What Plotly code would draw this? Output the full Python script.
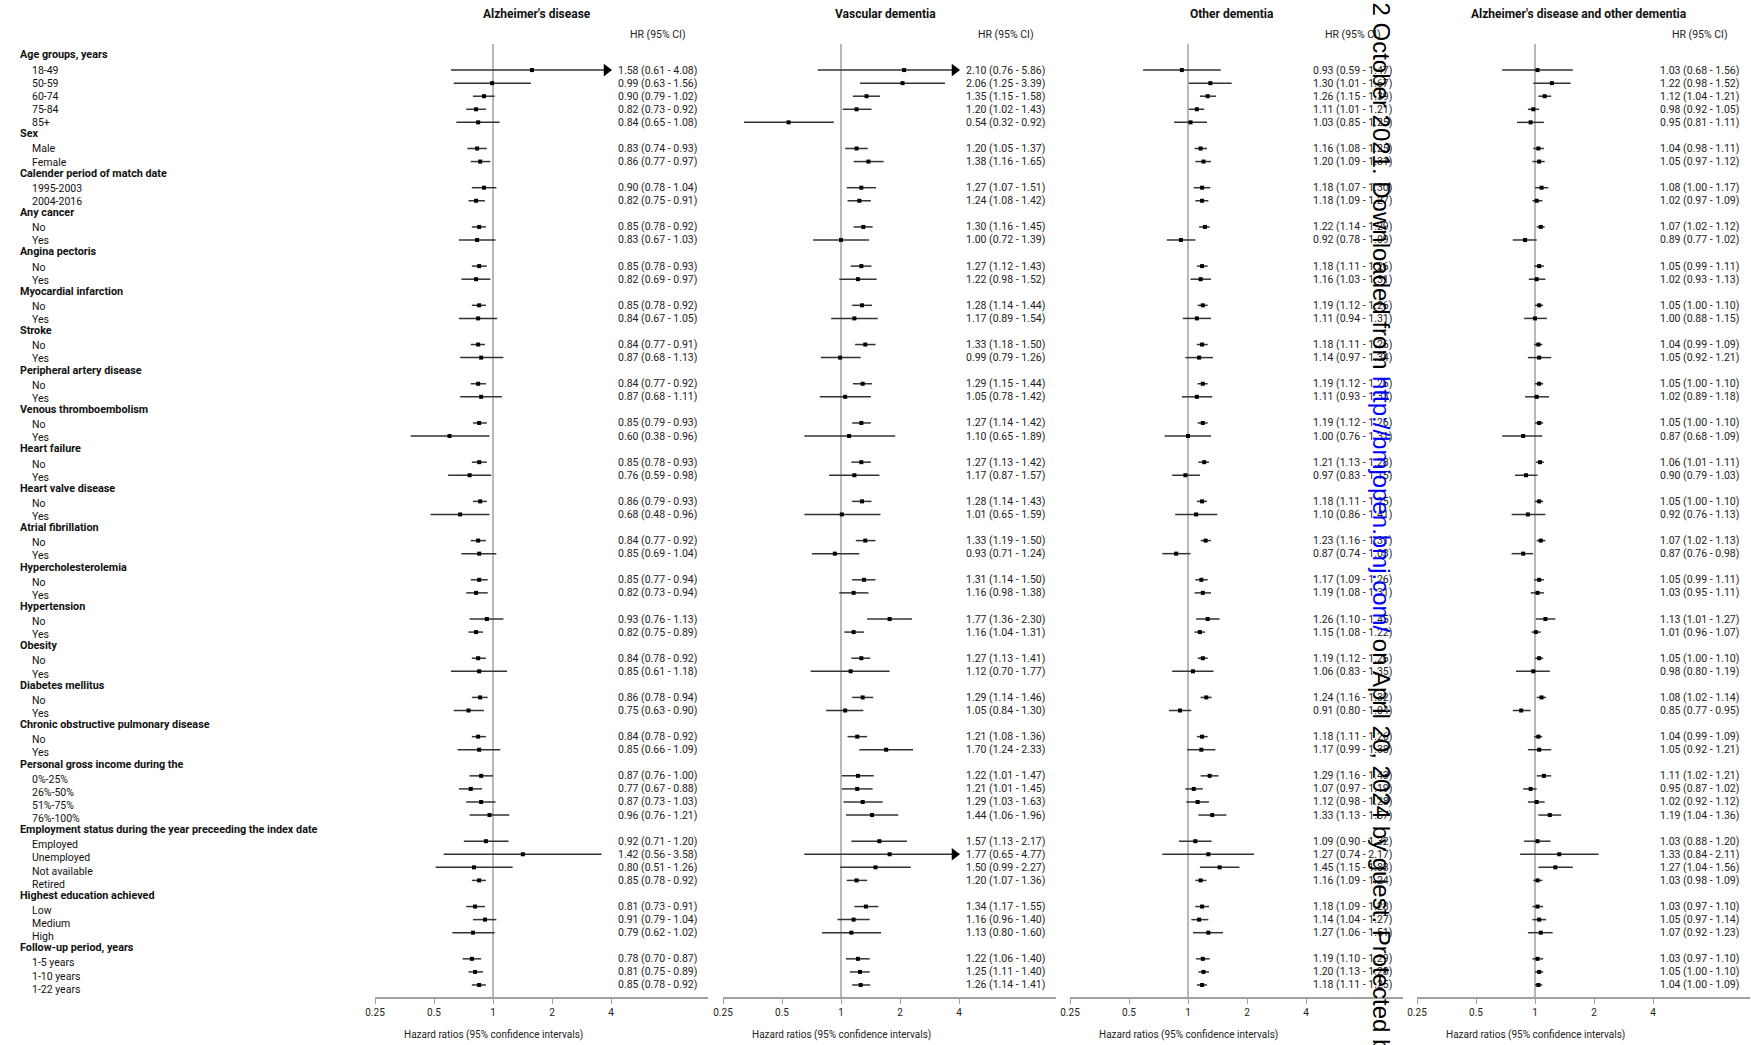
import math
import plotly.graph_objects as go

# ---------------- data ----------------
panel_titles = ["Alzheimer's disease", "Vascular dementia", "Other dementia",
                "Alzheimer's disease and other dementia"]

groups = [
    ("Age groups, years", ["18-49", "50-59", "60-74", "75-84", "85+"]),
    ("Sex", ["Male", "Female"]),
    ("Calender period of match date", ["1995-2003", "2004-2016"]),
    ("Any cancer", ["No", "Yes"]),
    ("Angina pectoris", ["No", "Yes"]),
    ("Myocardial infarction", ["No", "Yes"]),
    ("Stroke", ["No", "Yes"]),
    ("Peripheral artery disease", ["No", "Yes"]),
    ("Venous thromboembolism", ["No", "Yes"]),
    ("Heart failure", ["No", "Yes"]),
    ("Heart valve disease", ["No", "Yes"]),
    ("Atrial fibrillation", ["No", "Yes"]),
    ("Hypercholesterolemia", ["No", "Yes"]),
    ("Hypertension", ["No", "Yes"]),
    ("Obesity", ["No", "Yes"]),
    ("Diabetes mellitus", ["No", "Yes"]),
    ("Chronic obstructive pulmonary disease", ["No", "Yes"]),
    ("Personal gross income during the", ["0%-25%", "26%-50%", "51%-75%", "76%-100%"]),
    ("Employment status during the year preceeding the index date",
     ["Employed", "Unemployed", "Not available", "Retired"]),
    ("Highest education achieved", ["Low", "Medium", "High"]),
    ("Follow-up period, years", ["1-5 years", "1-10 years", "1-22 years"]),
]

ad_hr = [1.58, 0.99, 0.90, 0.82, 0.84, 0.83, 0.86, 0.90, 0.82, 0.85, 0.83, 0.85, 0.82, 0.85, 0.84,
         0.84, 0.87, 0.84, 0.87, 0.85, 0.60, 0.85, 0.76, 0.86, 0.68, 0.84, 0.85, 0.85, 0.82, 0.93, 0.82,
         0.84, 0.85, 0.86, 0.75, 0.84, 0.85, 0.87, 0.77, 0.87, 0.96, 0.92, 1.42, 0.80, 0.85, 0.81, 0.91,
         0.79, 0.78, 0.81, 0.85]
ad_lo = [0.61, 0.63, 0.79, 0.73, 0.65, 0.74, 0.77, 0.78, 0.75, 0.78, 0.67, 0.78, 0.69, 0.78, 0.67,
         0.77, 0.68, 0.77, 0.68, 0.79, 0.38, 0.78, 0.59, 0.79, 0.48, 0.77, 0.69, 0.77, 0.73, 0.76, 0.75,
         0.78, 0.61, 0.78, 0.63, 0.78, 0.66, 0.76, 0.67, 0.73, 0.76, 0.71, 0.56, 0.51, 0.78, 0.73, 0.79,
         0.62, 0.70, 0.75, 0.78]
ad_hi = [4.08, 1.56, 1.02, 0.92, 1.08, 0.93, 0.97, 1.04, 0.91, 0.92, 1.03, 0.93, 0.97, 0.92, 1.05,
         0.91, 1.13, 0.92, 1.11, 0.93, 0.96, 0.93, 0.98, 0.93, 0.96, 0.92, 1.04, 0.94, 0.94, 1.13, 0.89,
         0.92, 1.18, 0.94, 0.90, 0.92, 1.09, 1.00, 0.88, 1.03, 1.21, 1.20, 3.58, 1.26, 0.92, 0.91, 1.04,
         1.02, 0.87, 0.89, 0.92]

vd_hr = [2.10, 2.06, 1.35, 1.20, 0.54, 1.20, 1.38, 1.27, 1.24, 1.30, 1.00, 1.27, 1.22, 1.28, 1.17,
         1.33, 0.99, 1.29, 1.05, 1.27, 1.10, 1.27, 1.17, 1.28, 1.01, 1.33, 0.93, 1.31, 1.16, 1.77, 1.16,
         1.27, 1.12, 1.29, 1.05, 1.21, 1.70, 1.22, 1.21, 1.29, 1.44, 1.57, 1.77, 1.50, 1.20, 1.34, 1.16,
         1.13, 1.22, 1.25, 1.26]
vd_lo = [0.76, 1.25, 1.15, 1.02, 0.32, 1.05, 1.16, 1.07, 1.08, 1.16, 0.72, 1.12, 0.98, 1.14, 0.89,
         1.18, 0.79, 1.15, 0.78, 1.14, 0.65, 1.13, 0.87, 1.14, 0.65, 1.19, 0.71, 1.14, 0.98, 1.36, 1.04,
         1.13, 0.70, 1.14, 0.84, 1.08, 1.24, 1.01, 1.01, 1.03, 1.06, 1.13, 0.65, 0.99, 1.07, 1.17, 0.96,
         0.80, 1.06, 1.11, 1.14]
vd_hi = [5.86, 3.39, 1.58, 1.43, 0.92, 1.37, 1.65, 1.51, 1.42, 1.45, 1.39, 1.43, 1.52, 1.44, 1.54,
         1.50, 1.26, 1.44, 1.42, 1.42, 1.89, 1.42, 1.57, 1.43, 1.59, 1.50, 1.24, 1.50, 1.38, 2.30, 1.31,
         1.41, 1.77, 1.46, 1.30, 1.36, 2.33, 1.47, 1.45, 1.63, 1.96, 2.17, 4.77, 2.27, 1.36, 1.55, 1.40,
         1.60, 1.40, 1.40, 1.41]

od_hr = [0.93, 1.30, 1.26, 1.11, 1.03, 1.16, 1.20, 1.18, 1.18, 1.22, 0.92, 1.18, 1.16, 1.19, 1.11,
         1.18, 1.14, 1.19, 1.11, 1.19, 1.00, 1.21, 0.97, 1.18, 1.10, 1.23, 0.87, 1.17, 1.19, 1.26, 1.15,
         1.19, 1.06, 1.24, 0.91, 1.18, 1.17, 1.29, 1.07, 1.12, 1.33, 1.09, 1.27, 1.45, 1.16, 1.18, 1.14,
         1.27, 1.19, 1.20, 1.18]
od_lo = [0.59, 1.01, 1.15, 1.01, 0.85, 1.08, 1.09, 1.07, 1.09, 1.14, 0.78, 1.11, 1.03, 1.12, 0.94,
         1.11, 0.97, 1.12, 0.93, 1.12, 0.76, 1.13, 0.83, 1.11, 0.86, 1.16, 0.74, 1.09, 1.08, 1.10, 1.08,
         1.12, 0.83, 1.16, 0.80, 1.11, 0.99, 1.16, 0.97, 0.98, 1.13, 0.90, 0.74, 1.15, 1.09, 1.09, 1.04,
         1.06, 1.10, 1.13, 1.11]
od_hi = [1.47, 1.67, 1.39, 1.21, 1.25, 1.25, 1.31, 1.30, 1.27, 1.29, 1.09, 1.26, 1.31, 1.26, 1.31,
         1.26, 1.34, 1.26, 1.33, 1.26, 1.31, 1.28, 1.15, 1.25, 1.41, 1.31, 1.03, 1.26, 1.31, 1.45, 1.22,
         1.26, 1.35, 1.32, 1.04, 1.26, 1.38, 1.43, 1.19, 1.28, 1.57, 1.32, 2.17, 1.83, 1.24, 1.28, 1.27,
         1.51, 1.29, 1.28, 1.25]

adod_hr = [1.03, 1.22, 1.12, 0.98, 0.95, 1.04, 1.05, 1.08, 1.02, 1.07, 0.89, 1.05, 1.02, 1.05, 1.00,
           1.04, 1.05, 1.05, 1.02, 1.05, 0.87, 1.06, 0.90, 1.05, 0.92, 1.07, 0.87, 1.05, 1.03, 1.13, 1.01,
           1.05, 0.98, 1.08, 0.85, 1.04, 1.05, 1.11, 0.95, 1.02, 1.19, 1.03, 1.33, 1.27, 1.03, 1.03, 1.05,
           1.07, 1.03, 1.05, 1.04]
adod_lo = [0.68, 0.98, 1.04, 0.92, 0.81, 0.98, 0.97, 1.00, 0.97, 1.02, 0.77, 0.99, 0.93, 1.00, 0.88,
           0.99, 0.92, 1.00, 0.89, 1.00, 0.68, 1.01, 0.79, 1.00, 0.76, 1.02, 0.76, 0.99, 0.95, 1.01, 0.96,
           1.00, 0.80, 1.02, 0.77, 0.99, 0.92, 1.02, 0.87, 0.92, 1.04, 0.88, 0.84, 1.04, 0.98, 0.97, 0.97,
           0.92, 0.97, 1.00, 1.00]
adod_hi = [1.56, 1.52, 1.21, 1.05, 1.11, 1.11, 1.12, 1.17, 1.09, 1.12, 1.02, 1.11, 1.13, 1.10, 1.15,
           1.09, 1.21, 1.10, 1.18, 1.10, 1.09, 1.11, 1.03, 1.10, 1.13, 1.13, 0.98, 1.11, 1.11, 1.27, 1.07,
           1.10, 1.19, 1.14, 0.95, 1.09, 1.21, 1.21, 1.02, 1.12, 1.36, 1.20, 2.11, 1.56, 1.09, 1.10, 1.14,
           1.23, 1.10, 1.10, 1.09]

panels = [(ad_hr, ad_lo, ad_hi), (vd_hr, vd_lo, vd_hi), (od_hr, od_lo, od_hi),
          (adod_hr, adod_lo, adod_hi)]

tick_vals = [0.25, 0.5, 1, 2, 4]
tick_text = ["0.25", "0.5", "1", "2", "4"]
x_clip = 4.0
axis_title = "Hazard ratios (95% confidence intervals)"
col_header = "HR (95% CI)"
watermark_pre = "2 October 2021. Downloaded from "
watermark_link = "http://bmjopen.bmj.com/"
watermark_post = " on April 20, 2024 by guest. Protected by copyright."

# ---------------- layout geometry (pixels) ----------------
W, H = 1751, 1045
P0 = [375, 723, 1070, 1417]      # pixel of x=0.25 in each panel
PPD = 59.0                       # pixels per doubling
AXLEN = 333
PLOT_TOP, PLOT_BOTTOM = 44, 997
MARK_Y0, MARK_DY = 57.0, 13.07
LABEL_Y0, LABEL_DY = 57.0, 13.13
HEADER_SHIFT = -2.0
FONT = "Roboto"

def py(pix):
    return 1 - pix / H

def pxx(pix):
    return pix / W

# rows
rows = []  # (label, is_header, data_index)
di = 0
for head, items in groups:
    rows.append((head, True, None))
    for it in items:
        rows.append((it, False, di))
        di += 1

fig = go.Figure()
annotations = []
shapes = []
log2 = math.log10(2)

for p, (hr, lo, hi) in enumerate(panels):
    xa = "x" if p == 0 else f"x{p+1}"
    xs, ys, px_, py_, ax_, ay_ = [], [], [], [], [], []
    for r, (lab, is_h, d) in enumerate(rows):
        if d is None:
            continue
        top = min(hi[d], x_clip)
        xs += [lo[d], top, None]
        ys += [r, r, None]
        px_.append(hr[d])
        py_.append(r)
        if hi[d] > x_clip:
            ax_.append(x_clip / 2 ** (4.5 / PPD))
            ay_.append(r)
        annotations.append(dict(
            xref="paper", yref="y", x=pxx(P0[p] + 241), y=r, xanchor="left", yanchor="middle",
            text=f"{hr[d]:.2f} ({lo[d]:.2f} - {hi[d]:.2f})", showarrow=False,
            font=dict(family=FONT, size=10.5, color="#222")))
    fig.add_trace(go.Scatter(x=xs, y=ys, mode="lines", xaxis=xa, yaxis="y",
                             line=dict(color="#333", width=1.5), hoverinfo="skip",
                             showlegend=False))
    fig.add_trace(go.Scatter(x=px_, y=py_, mode="markers", xaxis=xa, yaxis="y",
                             marker=dict(symbol="square", size=4, color="#000"),
                             showlegend=False))
    if ax_:
        fig.add_trace(go.Scatter(x=ax_, y=ay_, mode="markers", xaxis=xa, yaxis="y",
                                 marker=dict(symbol="triangle-right", size=11, color="#000"),
                                 showlegend=False))
    # reference line at HR = 1
    shapes.append(dict(type="line", xref=xa, yref="paper", x0=1, x1=1, layer="below",
                       y0=py(PLOT_BOTTOM), y1=py(PLOT_TOP),
                       line=dict(color="#a0a0a0", width=1.5)))
    # panel title, column header, axis title
    annotations.append(dict(xref="paper", yref="paper", x=pxx(P0[p] + 162), y=py(14),
                            text=f"<b>{panel_titles[p]}</b>", showarrow=False,
                            xanchor="center", yanchor="middle",
                            font=dict(family=FONT, size=12, color="#111")))
    annotations.append(dict(xref="paper", yref="paper", x=pxx(P0[p] + 283), y=py(35),
                            text=col_header, showarrow=False, xanchor="center", yanchor="middle",
                            font=dict(family=FONT, size=10.5, color="#222")))
    annotations.append(dict(xref="paper", yref="paper", x=pxx(P0[p] + 2 * PPD), y=py(1035),
                            text=axis_title, showarrow=False, xanchor="center", yanchor="middle",
                            font=dict(family=FONT, size=10, color="#222")))

    fig.update_layout(**{
        ("xaxis" if p == 0 else f"xaxis{p+1}"): dict(
            type="log", domain=[pxx(P0[p]), pxx(P0[p] + AXLEN)],
            range=[math.log10(0.25), math.log10(0.25) + AXLEN / PPD * log2],
            anchor="y", showgrid=False, zeroline=False, automargin=False,
            showline=True, linecolor="#a0a0a0", linewidth=1.5,
            ticks="outside", ticklen=5, tickwidth=1.2, tickcolor="#a0a0a0",
            tickvals=tick_vals, ticktext=tick_text,
            tickfont=dict(family=FONT, size=10, color="#222"))
    })

# row labels
for r, (lab, is_h, d) in enumerate(rows):
    ypix = LABEL_Y0 + LABEL_DY * r + (HEADER_SHIFT if is_h else 0)
    annotations.append(dict(
        xref="paper", yref="paper", x=pxx(18 if is_h else 30), y=py(ypix),
        xanchor="left", yanchor="middle", showarrow=False,
        text=f"<b>{lab}</b>" if is_h else lab,
        font=dict(family=FONT, size=10.8 if is_h else 10.5, color="#111")))

# watermark
annotations.append(dict(
    xref="paper", yref="paper", x=pxx(1381), y=1.0, xanchor="center", yanchor="top",
    textangle=90, showarrow=False,
    text=watermark_pre + f"<span style='color:#0000ff'>{watermark_link}</span>" + watermark_post,
    font=dict(family="Liberation Sans", size=24, color="#000")))

fig.update_layout(
    width=W, height=H, autosize=False,
    margin=dict(l=0, r=0, t=0, b=0, pad=0, autoexpand=False),
    paper_bgcolor="white", plot_bgcolor="white",
    yaxis=dict(domain=[py(PLOT_BOTTOM), py(PLOT_TOP)],
               range=[(PLOT_BOTTOM - MARK_Y0) / MARK_DY, (PLOT_TOP - MARK_Y0) / MARK_DY],
               visible=False, showgrid=False, zeroline=False, automargin=False),
    annotations=annotations, shapes=shapes, showlegend=False,
)

fig.write_html("out.html", post_script="document.body.style.margin='0';")
